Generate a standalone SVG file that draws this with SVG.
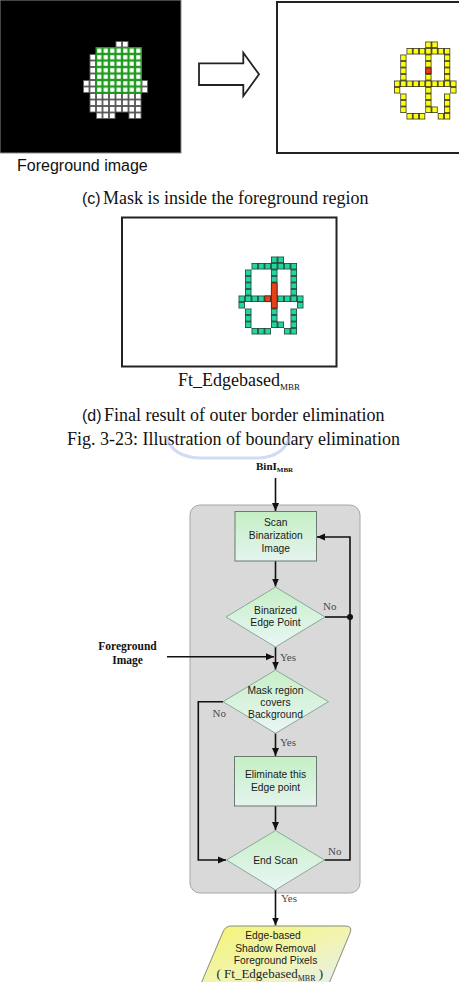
<svg xmlns="http://www.w3.org/2000/svg" width="459" height="982" viewBox="0 0 459 982">
<style>
.fc{font-family:"Liberation Sans",Arial,sans-serif;font-size:10.3px;fill:#1a1a1a;text-anchor:middle}
.lbl{font-family:"Liberation Serif","Times New Roman",serif;font-size:11px;fill:#4a4a4a}
.bold{font-family:"Liberation Serif","Times New Roman",serif;font-weight:bold;fill:#111}
.cap{font-family:"Liberation Serif","Times New Roman",serif;font-size:18px;fill:#111}
.capsans{font-family:"Liberation Sans",Arial,sans-serif;font-size:16px;fill:#111}
.conn{stroke:#111;stroke-width:1.6;fill:none}
.box{stroke:#6a7a70;stroke-width:1;fill:url(#boxGrad)}
.dia{stroke:#8aa898;stroke-width:1;fill:url(#diaGrad)}
</style>
<defs>
<linearGradient id="boxGrad" x1="0" y1="0" x2="0" y2="1"><stop offset="0" stop-color="#c4efc4"/><stop offset="1" stop-color="#e4f4ee"/></linearGradient>
<linearGradient id="diaGrad" x1="0" y1="0" x2="0" y2="1"><stop offset="0" stop-color="#c6efc6"/><stop offset="1" stop-color="#eaf6f6"/></linearGradient>
<linearGradient id="paraGrad" x1="0" y1="0" x2="1" y2="1"><stop offset="0" stop-color="#f4f470"/><stop offset="0.5" stop-color="#f2f4ac"/><stop offset="1" stop-color="#e6f0f2"/></linearGradient>
<marker id="ah" markerWidth="8" markerHeight="8" refX="8" refY="4" orient="auto" markerUnits="userSpaceOnUse"><path d="M0,0.5 L8,4 L0,7.5 z" fill="#111"/></marker>
<pattern id="pWhite" patternUnits="userSpaceOnUse" x="83" y="41" width="6.5" height="6.5"><rect x="0.4" y="0.4" width="5.7" height="5.7" fill="#fff" stroke="#555" stroke-width="0.8"/></pattern>
<pattern id="pGreen" patternUnits="userSpaceOnUse" x="83" y="41" width="6.5" height="6.5"><rect x="0.5" y="0.5" width="5.5" height="5.5" fill="#fff" stroke="#1f9a1f" stroke-width="1.3"/></pattern>
<pattern id="pYellow" patternUnits="userSpaceOnUse" x="394" y="41.5" width="6.25" height="6.5"><rect x="0.4" y="0.4" width="5.45" height="5.7" fill="#ffff14" stroke="#3a3a20" stroke-width="0.8"/></pattern>
<pattern id="pTeal" patternUnits="userSpaceOnUse" x="238.5" y="256.5" width="6.5" height="6.5"><rect x="0.4" y="0.4" width="5.7" height="5.7" fill="#22d6a0" stroke="#1c4638" stroke-width="0.8"/></pattern>
</defs>

<rect width="459" height="982" fill="#fff"/>

<g id="foreground-image">
<rect x="0" y="0" width="181" height="153" fill="#000" stroke="#8a8a8a" stroke-width="1"/>
<path fill="url(#pWhite)" d="M115.5,41 H128.5 V47.5 H141.5 V80 H148 V93 H141.5 V119 H128.5 V112.5 H115.5 V119 H96 V112.5 H89.5 V93 H83 V80 H89.5 V54 H96 V47.5 H115.5 Z"/>
<rect x="96" y="47.5" width="45.5" height="45.5" fill="url(#pGreen)" stroke="#1f9a1f" stroke-width="1"/>
<text class="capsans" x="17" y="171">Foreground image</text>
</g>

<g id="hollow-arrow">
<path d="M199,63.3 H243.3 V52.7 L259,74.3 L243.3,96 V85 H199 Z" fill="#fff" stroke="#222" stroke-width="1.8" stroke-linejoin="miter"/>
</g>

<g id="mask-image">
<rect x="277" y="2" width="200" height="151" fill="#fff" stroke="#222" stroke-width="2"/>
<path fill="url(#pYellow)" d="M425.25,41.5h12.5v6.5h-12.5z M406.5,48h43.75v6.5h-43.75z M400.25,54.5h6.25v26h-6.25z M425.25,48h6.25v65h-6.25z M444,54.5h6.25v26h-6.25z M394,80.5h62.5v6.5h-62.5z M394,87h6.25v6.5h-6.25z M450.25,87h6.25v6.5h-6.25z M400.25,93.5h6.25v19.5h-6.25z M444,93.5h6.25v19.5h-6.25z M431.5,106.5h6.25v6.5h-6.25z M406.5,113h18.75v6.5h-18.75z M437.75,113h12.5v6.5h-12.5z"/>
<rect x="425.65" y="67.9" width="5.45" height="5.7" fill="#e63a10" stroke="#5a2010" stroke-width="0.8"/>
</g>

<g id="caption-c">
<text class="capsans" x="82" y="204" font-size="15">(c)</text>
<text class="cap" x="103" y="204">Mask is inside the foreground region</text>
</g>

<g id="result-image">
<rect x="122" y="217.5" width="214.5" height="149" fill="#fff" stroke="#222" stroke-width="2"/>
<path fill="url(#pTeal)" d="M271,256.5h13v6.5h-13z M251.5,263h45.5v6.5h-45.5z M245,269.5h6.5v26h-6.5z M271,263h6.5v65h-6.5z M290.5,269.5h6.5v26h-6.5z M238.5,295.5h65v6.5h-65z M238.5,302h6.5v6.5h-6.5z M297,302h6.5v6.5h-6.5z M245,308.5h6.5v19.5h-6.5z M290.5,308.5h6.5v19.5h-6.5z M277.5,321.5h6.5v6.5h-6.5z M251.5,328h19.5v6.5h-19.5z M284,328h13v6.5h-13z"/>
<path d="M271.4,282.9h5.7v25.2h-5.7z M264.9,295.9h5.7v5.7h-5.7z" fill="#e84018" stroke="#5a2010" stroke-width="0.8"/>
<text class="cap" x="178" y="385.5" font-size="17">Ft_Edgebased<tspan font-size="9" dy="4">MBR</tspan></text>
</g>

<g id="caption-d">
<text class="capsans" x="82" y="421" font-size="15">(d)</text>
<text class="cap" x="104" y="421">Final result of outer border elimination</text>
</g>
<g id="figure-caption">
<text class="cap" x="67" y="445">Fig. 3-23: Illustration of boundary elimination</text>
</g>

<g id="watermark" opacity="0.55">
<path d="M166,436 Q172,457 200,458 H258 Q284,457 290,436" fill="none" stroke="#a9c0ea" stroke-width="3"/>
</g>

<g id="container">
<rect x="190" y="505" width="170" height="388" rx="10" fill="#d9d9d9" stroke="#a6a6a6" stroke-width="1"/>
</g>

<g id="connectors">
<path class="conn" d="M275.5,478 V511" marker-end="url(#ah)"/>
<path class="conn" d="M275.5,561 V586.5" marker-end="url(#ah)"/>
<path class="conn" d="M325,617 H350"/>
<path class="conn" d="M324.5,860 H350 V537 H317" marker-end="url(#ah)"/>
<circle cx="350" cy="617" r="3" fill="#111"/>
<path class="conn" d="M275.5,647 V669.5" marker-end="url(#ah)"/>
<path class="conn" d="M167,656.7 H274" marker-end="url(#ah)"/>
<path class="conn" d="M275.5,733.3 V756" marker-end="url(#ah)"/>
<path class="conn" d="M223,701.7 H198.3 V860 H226" marker-end="url(#ah)"/>
<path class="conn" d="M275.5,806 V830" marker-end="url(#ah)"/>
<path class="conn" d="M275.5,890 V925.5" marker-end="url(#ah)"/>
<text class="lbl" x="323" y="610">No</text>
<text class="lbl" x="280" y="660.5">Yes</text>
<text class="lbl" x="212.5" y="717">No</text>
<text class="lbl" x="280" y="745.5">Yes</text>
<text class="lbl" x="328" y="854.5">No</text>
<text class="lbl" x="281" y="902">Yes</text>
</g>

<g id="input-bini">
<text class="bold" x="256" y="469.5" font-size="11">BinI<tspan font-size="7" dy="2">MBR</tspan></text>
</g>

<g id="input-foreground">
<text class="bold" x="127.5" y="650" font-size="11.5" text-anchor="middle">Foreground</text>
<text class="bold" x="127.5" y="664" font-size="11.5" text-anchor="middle">Image</text>
</g>

<g id="scan-box">
<rect class="box" x="235" y="511.5" width="81.5" height="49.5"/>
<text class="fc" x="275.75" y="526.3">Scan</text>
<text class="fc" x="275.75" y="538.6">Binarization</text>
<text class="fc" x="275.75" y="552">Image</text>
</g>

<g id="edge-point-decision">
<path class="dia" d="M275.5,587 L325,617 L275.5,647 L226,617 Z"/>
<text class="fc" x="275.5" y="613.6">Binarized</text>
<text class="fc" x="275.5" y="626.3">Edge Point</text>
</g>

<g id="mask-decision">
<path class="dia" d="M275.5,670 L328.5,701.7 L275.5,733.3 L223,701.7 Z"/>
<text class="fc" x="275.5" y="693.6">Mask region</text>
<text class="fc" x="275.5" y="706">covers</text>
<text class="fc" x="275.5" y="718">Background</text>
</g>

<g id="eliminate-box">
<rect class="box" x="234.5" y="756.5" width="82" height="49.5"/>
<text class="fc" x="275.5" y="777.6">Eliminate this</text>
<text class="fc" x="275.5" y="790.6">Edge point</text>
</g>

<g id="end-scan-decision">
<path class="dia" d="M275.5,830.5 L324.5,860 L275.5,890 L226.5,860 Z"/>
<text class="fc" x="275.5" y="863.6">End Scan</text>
</g>

<g id="output">
<path d="M231,926 H345 Q353,926 350,933 L328,986 H200 L222.5,933 Q225,926 231,926 Z" fill="url(#paraGrad)" stroke="#8a8a80" stroke-width="1"/>
<text class="fc" x="273" y="939.3">Edge-based</text>
<text class="fc" x="275.5" y="952">Shadow Removal</text>
<text class="fc" x="275.5" y="964.3">Foreground Pixels</text>
<text x="216.5" y="978" font-family="Liberation Serif,Times New Roman,serif" font-size="13" fill="#1e1e1e">( Ft_Edgebased<tspan font-size="8" dy="2.5">MBR</tspan><tspan dy="-2.5"> )</tspan></text>
</g>
</svg>
